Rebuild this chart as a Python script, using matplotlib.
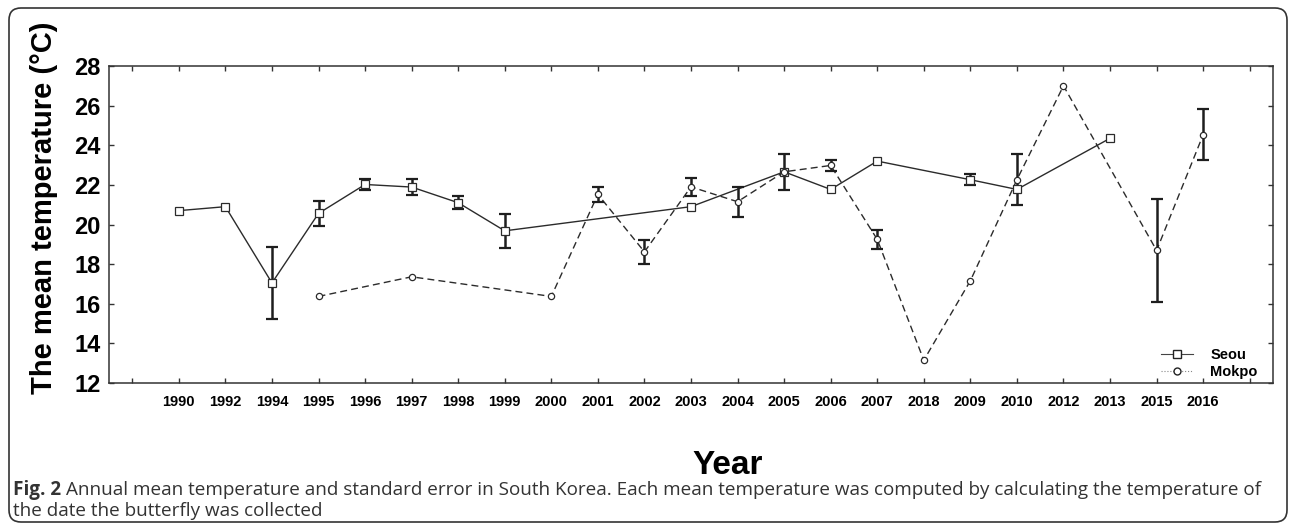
import numpy as np
import matplotlib
matplotlib.use("Agg")
import matplotlib.pyplot as plt
from matplotlib.lines import Line2D
from matplotlib.patches import FancyBboxPatch
from matplotlib.transforms import IdentityTransform

nan = np.nan

# x axis categories (order as printed in the figure)
years = ['1990', '1992', '1994', '1995', '1996', '1997', '1998', '1999', '2000',
         '2001', '2002', '2003', '2004', '2005', '2006', '2007', '2018', '2009',
         '2010', '2012', '2013', '2015', '2016']

seoul = [20.7, 20.9, 17.05, 20.56, 22.02, 21.89, 21.1, 19.68, nan,
         nan, nan, 20.9, nan, 22.66, 21.77, 23.2, nan, 22.26,
         21.77, nan, 24.35, nan, nan]
seoul_err = [0, 0, 1.8, 0.63, 0.28, 0.4, 0.32, 0.85, nan,
             nan, nan, 0, nan, 0.9, 0, 0, nan, 0.28,
             0, nan, 0, nan, nan]

mokpo = [nan, nan, nan, 16.37, nan, 17.36, nan, nan, 16.37,
         21.52, 18.62, 21.9, 21.15, 22.66, 22.98, 19.25, 13.15, 17.16,
         22.26, 27.0, nan, 18.69, 24.53]
mokpo_err = [nan, nan, nan, 0, nan, 0, nan, nan, 0,
             0.36, 0.6, 0.45, 0.75, 0, 0.28, 0.48, 0, 0,
             1.28, 0, nan, 2.59, 1.29]

W, H = 1290, 523
fig = plt.figure(figsize=(W / 100, H / 100), dpi=100)
ax = fig.add_axes([109 / W, 1 - 383 / H, (1273 - 109) / W, (383 - 66) / H])

x = np.arange(1, len(years) + 1)


def draw_series(vals, errs, ls, marker, ms, dashes=None):
    v = np.array(vals, dtype=float)
    e = np.array(errs, dtype=float)
    ok = ~np.isnan(v)
    kw = dict(color='#2b2b2b', lw=1.0, ls=ls, zorder=2)
    if dashes is not None:
        kw['dashes'] = dashes
    ax.plot(x[ok], v[ok], **kw)
    eb = ok & (e > 0)
    ax.errorbar(x[eb], v[eb], yerr=e[eb], fmt='none', ecolor='#1e1e1e',
                elinewidth=1.8, capsize=4, capthick=1.6, zorder=3)
    ax.plot(x[ok], v[ok], ls='none', marker=marker, ms=ms, mfc='white',
            mec='#2b2b2b', mew=0.9, zorder=4)


draw_series(seoul, seoul_err, '-', 's', 5.5)
draw_series(mokpo, mokpo_err, '--', 'o', 4.5, dashes=(5, 3))

ax.set_xlim(-0.5, 24.5)
ax.set_ylim(12, 28)
ax.set_xticks(np.arange(0, 25))
ax.set_xticklabels([''] + years + [''])
ax.set_yticks(np.arange(12, 29, 2))
for lab in ax.get_xticklabels():
    lab.set_fontfamily('Liberation Sans')
    lab.set_fontweight('bold')
    lab.set_fontsize(10.5)
for lab in ax.get_yticklabels():
    lab.set_fontfamily('Liberation Sans')
    lab.set_fontweight('bold')
    lab.set_fontsize(17)
ax.tick_params(axis='both', direction='in', length=3.5, width=1,
               top=True, right=True, color='#333333')
ax.tick_params(axis='x', pad=9)
ax.tick_params(axis='y', pad=6)
for sp in ax.spines.values():
    sp.set_color('#333333')
    sp.set_linewidth(1.1)

handles = [
    Line2D([], [], color='#444444', lw=0.8, ls='-', marker='s', ms=6,
           mfc='white', mec='#222222'),
    Line2D([], [], color='#888888', lw=0.8, ls=':', marker='o', ms=5,
           mfc='white', mec='#222222'),
]
ax.legend(handles, ['Seou', 'Mokpo'], loc='lower right',
          bbox_to_anchor=(0.998, -0.03), frameon=False, handlelength=2.2,
          handletextpad=1.2, labelspacing=0.25,
          prop={'family': 'Liberation Sans', 'weight': 'bold', 'size': 10.5})

fig.text(44 / W, 1 - 208 / H, 'The mean temperature (°C)', rotation=90,
         ha='center', va='center', fontsize=21, fontweight='bold',
         family='Liberation Sans')
fig.text(728 / W, 1 - 466 / H, 'Year', ha='center', va='center',
         fontsize=24, fontweight='bold', family='Liberation Sans')

# caption
cap_color = '#333333'
t1 = fig.text(13 / W, 1 - 495 / H, 'Fig. 2', ha='left', va='baseline',
              fontsize=13.6, fontweight='bold', family='Open Sans', color=cap_color)
r = fig.canvas.get_renderer()
bb = t1.get_window_extent(renderer=r)
fig.text((bb.x1 + 5) / W, 1 - 495 / H,
         'Annual mean temperature and standard error in South Korea. Each mean '
         'temperature was computed by calculating the temperature of',
         ha='left', va='baseline', fontsize=13.6, family='Open Sans', color=cap_color)
fig.text(13 / W, 1 - 516 / H, 'the date the butterfly was collected',
         ha='left', va='baseline', fontsize=13.6, family='Open Sans', color=cap_color)

# rounded frame around the figure
frame = FancyBboxPatch((9, H - 522), 1278, 514,
                       boxstyle='round,pad=0,rounding_size=12',
                       transform=IdentityTransform(), fill=False,
                       ec='#333333', lw=1.2)
fig.patches.append(frame)

fig.savefig('out.png', dpi=100)
